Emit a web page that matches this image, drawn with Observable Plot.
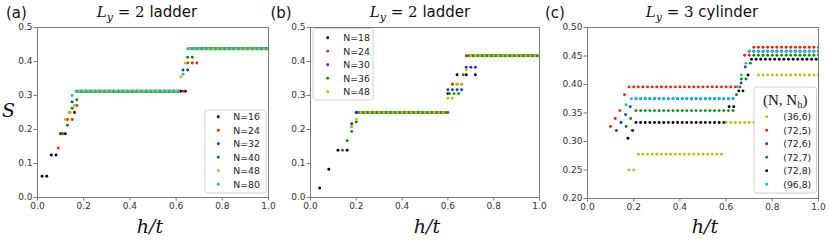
<!DOCTYPE html>
<html>
<head>
<meta charset="utf-8">
<script src="https://cdn.jsdelivr.net/npm/d3@7"></script>
<script src="https://cdn.jsdelivr.net/npm/@observablehq/plot@0.6"></script>
<style>
  body { margin: 0; background: #fff; }
  #wrap { position: relative; width: 830px; height: 240px; overflow: hidden; background: #fff; }
  #wrap > div.panel { position: absolute; top: 0; }
  svg { overflow: visible; }
</style>
</head>
<body>
<div id="wrap"></div>
<script>
// ---------------- data ----------------
const xTicks = [0, 0.2, 0.4, 0.6, 0.8, 1.0];
const yTicksAB = [0, 0.1, 0.2, 0.3, 0.4, 0.5];
const yTicksC = [0.20, 0.25, 0.30, 0.35, 0.40, 0.45, 0.50];

// typed h sampling grids used by the plateaus
const hGridEven = [0.02,0.04,0.06,0.08,0.10,0.12,0.14,0.16,0.18,0.20,0.22,0.24,0.26,0.28,0.30,0.32,0.34,0.36,0.38,0.40,0.42,0.44,0.46,0.48,0.50,0.52,0.54,0.56,0.58,0.60,0.62,0.64,0.66,0.68,0.70,0.72,0.74,0.76,0.78,0.80,0.82,0.84,0.86,0.88,0.90,0.92,0.94,0.96,0.98,1.00];
const hGridOdd = [0.01,0.03,0.05,0.07,0.09,0.11,0.13,0.15,0.17,0.19,0.21,0.23,0.25,0.27,0.29,0.31,0.33,0.35,0.37,0.39,0.41,0.43,0.45,0.47,0.49,0.51,0.53,0.55,0.57,0.59,0.61,0.63,0.65,0.67,0.69,0.71,0.73,0.75,0.77,0.79,0.81,0.83,0.85,0.87,0.89,0.91,0.93,0.95,0.97,0.99];
const hGrid04 = [0.04,0.08,0.12,0.16,0.20,0.24,0.28,0.32,0.36,0.40,0.44,0.48,0.52,0.56,0.60,0.64,0.68,0.72,0.76,0.80,0.84,0.88,0.92,0.96,1.00];

// Panel (a): Ly = 2 ladder
const labelsA = ["N=16", "N=24", "N=32", "N=40", "N=48", "N=80"];
const a16_pts = [[0.02,0.0625],[0.04,0.0625],[0.06,0.125],[0.08,0.125],[0.10,0.1875],[0.12,0.1875],[0.14,0.25],[0.16,0.25]];
const a16_runs = [[0.18,0.64,0.3125,"even"],[0.66,1.00,0.4375,"even"]];
const a24_pts = [[0.09,0.1458],[0.11,0.1875],[0.13,0.2292],[0.15,0.2292],[0.17,0.2708],[0.65,0.3958],[0.67,0.3958],[0.69,0.3958]];
const a24_runs = [[0.19,0.63,0.3125,"odd"],[0.71,0.99,0.4375,"odd"]];
const a32_pts = [[0.15,0.28125],[0.63,0.375],[0.65,0.375]];
const a32_runs = [[0.17,0.61,0.3125,"odd"],[0.67,0.99,0.4375,"odd"]];
const a40_pts = [[0.105,0.1875],[0.13,0.2125],[0.15,0.2625],[0.17,0.2875],[0.65,0.4125],[0.67,0.4125]];
const a40_runs = [[0.19,0.61,0.3125,"odd"],[0.69,0.99,0.4375,"odd"]];
const a48_pts = [[0.12,0.2292],[0.14,0.25],[0.16,0.2708],[0.62,0.3542],[0.64,0.3958]];
const a48_runs = [[0.18,0.60,0.3125,"even"],[0.66,1.00,0.4375,"even"]];
const a80_pts = [[0.15,0.30],[0.63,0.3625]];
const a80_runs = [[0.17,0.61,0.3125,"odd"],[0.65,0.99,0.4375,"odd"]];

// Panel (b): Ly = 2 ladder
const labelsB = ["N=18", "N=24", "N=30", "N=36", "N=48"];
const b18_pts = [[0.04,0.0278],[0.08,0.0833],[0.12,0.1389],[0.16,0.1389],[0.60,0.3056],[0.64,0.3611],[0.68,0.3611],[0.72,0.3611]];
const b18_runs = [[0.20,0.56,0.25,"q"],[0.76,1.00,0.4167,"q"]];
const b24_pts = [[0.18,0.2083],[0.62,0.3333],[0.64,0.3333],[0.66,0.3333]];
const b24_runs = [[0.20,0.60,0.25,"even"],[0.68,1.00,0.4167,"even"]];
const b30_pts = [[0.18,0.2167],[0.60,0.3167],[0.62,0.3167],[0.64,0.3167],[0.66,0.3167],[0.68,0.3833],[0.70,0.3833],[0.72,0.3833]];
const b30_runs = [[0.20,0.58,0.25,"even"],[0.74,1.00,0.4167,"even"]];
const b36_pts = [[0.14,0.1389],[0.16,0.1667],[0.18,0.1944],[0.20,0.2222],[0.607,0.3056],[0.627,0.3056],[0.647,0.3056],[0.667,0.3611]];
const b36_runs = [[0.21,0.59,0.25,"odd"],[0.69,0.99,0.4167,"odd"]];
const b48_pts = [[0.18,0.2083],[0.20,0.2292],[0.60,0.2917],[0.62,0.2917],[0.64,0.3333],[0.66,0.3333],[0.68,0.375]];
const b48_runs = [[0.22,0.58,0.25,"even"],[0.70,1.00,0.4167,"even"]];

// Panel (c): Ly = 3 cylinder, legend (N, N_h)
const labelsC = ["(36,6)", "(72,5)", "(72,6)", "(72,7)", "(72,8)", "(96,8)"];
const c36_6_pts = [[0.18,0.25],[0.20,0.25]];
const c36_6_runs = [[0.22,0.58,0.2778,"even"],[0.60,0.72,0.3333,"even"],[0.74,1.00,0.4167,"even"]];
const c72_5_pts = [[0.10,0.3264],[0.12,0.3403],[0.14,0.3542],[0.16,0.3819],[0.68,0.4514],[0.70,0.4514]];
const c72_5_runs = [[0.18,0.66,0.3958,"even"],[0.72,1.00,0.4653,"even"]];
const c72_6_pts = [[0.125,0.3194],[0.145,0.3333],[0.165,0.3472],[0.185,0.3611],[0.665,0.4028],[0.683,0.4306]];
const c72_6_runs = [[0.21,0.63,0.375,"odd"],[0.70,1.00,0.4583,"even"]];
const c72_7_pts = [[0.167,0.3264],[0.187,0.3403],[0.645,0.3819],[0.666,0.4097],[0.686,0.4097],[0.705,0.4375]];
const c72_7_runs = [[0.21,0.63,0.3542,"odd"],[0.72,1.00,0.4514,"even"]];
const c72_8_pts = [[0.175,0.3056],[0.195,0.3194],[0.613,0.3611],[0.633,0.3611],[0.655,0.3889],[0.673,0.3889],[0.695,0.4167]];
const c72_8_runs = [[0.21,0.59,0.3333,"odd"],[0.71,0.99,0.4444,"odd"]];
const c96_8_pts = [[0.167,0.3646],[0.648,0.3958],[0.666,0.4167],[0.686,0.4375]];
const c96_8_runs = [[0.19,0.63,0.375,"odd"],[0.70,1.00,0.4583,"even"]];

// ---------------- styles ----------------
const K = "#000000", R = "#ff1a00", B = "#1030ff", G = "#0a8a0a", Y = "#c0c000", C = "#00bfcf";
const colorsA = [K, R, B, G, Y, C];
const colorsB = [K, R, B, G, Y];
const colorsC = [Y, R, B, G, K, C];

const grids = {even: hGridEven, odd: hGridOdd, q: hGrid04};
function series(name, pts, runs) {
  const out = [];
  for (const [h0, h1, S, g] of runs)
    for (const h of grids[g]) if (h >= h0 - 1e-9 && h <= h1 + 1e-9) out.push({h, S, name});
  for (const [h, S] of pts) out.push({h, S, name});
  return out;
}

const dataA = [
  ...series(labelsA[0], a16_pts, a16_runs), ...series(labelsA[1], a24_pts, a24_runs),
  ...series(labelsA[2], a32_pts, a32_runs), ...series(labelsA[3], a40_pts, a40_runs),
  ...series(labelsA[4], a48_pts, a48_runs), ...series(labelsA[5], a80_pts, a80_runs)];
const dataB = [
  ...series(labelsB[0], b18_pts, b18_runs), ...series(labelsB[1], b24_pts, b24_runs),
  ...series(labelsB[2], b30_pts, b30_runs), ...series(labelsB[3], b36_pts, b36_runs),
  ...series(labelsB[4], b48_pts, b48_runs)];
const dataC = [
  ...series(labelsC[0], c36_6_pts, c36_6_runs), ...series(labelsC[1], c72_5_pts, c72_5_runs),
  ...series(labelsC[2], c72_6_pts, c72_6_runs), ...series(labelsC[3], c72_7_pts, c72_7_runs),
  ...series(labelsC[4], c72_8_pts, c72_8_runs), ...series(labelsC[5], c96_8_pts, c96_8_runs)];

const wrap = document.getElementById("wrap");

function panel({left, width, ml, mr, mb, yDomain, yTicks, yFmt, data, labels, colors}) {
  const chart = Plot.plot({
    width, height: 240,
    marginLeft: ml, marginRight: mr, marginTop: 27, marginBottom: mb,
    style: {fontFamily: "DejaVu Sans", fontSize: "9px", background: "transparent", overflow: "visible"},
    x: {domain: [0, 1], label: null},
    y: {domain: yDomain, label: null},
    color: {domain: labels, range: colors},
    marks: [
      Plot.dot(data, {x: "h", y: "S", fill: "name", r: 1.45, clip: true}),
      Plot.frame({stroke: "#7a7a7a", strokeWidth: 1}),
      Plot.axisX({ticks: xTicks, tickFormat: d3.format(".1f"), tickSize: 3.5, tickPadding: 1.5, stroke: "#7a7a7a", fill: "#333", label: null}),
      Plot.axisY({ticks: yTicks, tickFormat: d3.format(yFmt), tickSize: 3.5, tickPadding: 1.5, stroke: "#7a7a7a", fill: "#333", label: null})
    ]
  });
  const div = document.createElement("div");
  div.className = "panel";
  div.style.left = left + "px";
  div.appendChild(chart);
  wrap.appendChild(div);
}

panel({left: 0, width: 277, ml: 37, mr: 9, mb: 43, yDomain: [0, 0.5], yTicks: yTicksAB, yFmt: ".1f", data: dataA, labels: labelsA, colors: colorsA});
panel({left: 277, width: 270, ml: 33, mr: 8, mb: 43, yDomain: [0, 0.5], yTicks: yTicksAB, yFmt: ".1f", data: dataB, labels: labelsB, colors: colorsB});
panel({left: 547, width: 283, ml: 40, mr: 12, mb: 42, yDomain: [0.2, 0.5], yTicks: yTicksC, yFmt: ".2f", data: dataC, labels: labelsC, colors: colorsC});

// ---------------- overlay: titles, labels, legends ----------------
const ov = d3.select(wrap).append("svg")
  .attr("width", 830).attr("height", 240)
  .style("position", "absolute").style("left", "0px").style("top", "0px");

const serif = "DejaVu Serif";
const sans = "DejaVu Sans";

function panelTag(x, txt) {
  ov.append("text").attr("x", x).attr("y", 18).attr("font-family", sans).attr("font-size", 15).attr("fill", "#111").text(txt);
}
panelTag(6, "(a)");
panelTag(270.5, "(b)");
panelTag(545, "(c)");

function title(cx, n, word) {
  const t = ov.append("text").attr("x", cx).attr("y", 17).attr("text-anchor", "middle").attr("font-size", 15).attr("fill", "#111");
  t.append("tspan").attr("font-family", serif).attr("font-style", "italic").text("L");
  t.append("tspan").attr("font-family", serif).attr("font-style", "italic").attr("font-size", 11).attr("dy", 3.5).text("y");
  t.append("tspan").attr("font-family", serif).attr("dy", -3.5).text(" = " + n + " ");
  t.append("tspan").attr("font-family", sans).text(word);
}
title(147, "2", "ladder");
title(420, "2", "ladder");
title(702, "3", "cylinder");

function xlabel(cx) {
  ov.append("text").attr("x", cx).attr("y", 233).attr("text-anchor", "middle")
    .attr("font-family", serif).attr("font-style", "italic").attr("font-size", 19).attr("fill", "#111").text("h/t");
}
xlabel(150); xlabel(427); xlabel(705);
ov.append("text").attr("x", 8.5).attr("y", 117).attr("text-anchor", "middle")
  .attr("font-family", serif).attr("font-style", "italic").attr("font-size", 19).attr("fill", "#111").text("S");

function legend({x, y, w, h, rows0, markX, textX, labels, colors, titleY}) {
  ov.append("rect").attr("x", x).attr("y", y).attr("width", w).attr("height", h).attr("rx", 2.5)
    .attr("fill", "#fff").attr("fill-opacity", 0.85).attr("stroke", "#d0d0d0").attr("stroke-width", 1);
  if (titleY) {
    const t = ov.append("text").attr("x", x + w / 2).attr("y", titleY).attr("text-anchor", "middle")
      .attr("font-family", "Liberation Serif").attr("font-size", 15).attr("fill", "#111");
    t.append("tspan").text("(N, N");
    t.append("tspan").attr("font-size", 10.5).attr("dy", 3).text("h");
    t.append("tspan").attr("dy", -3).text(")");
  }
  labels.forEach((lab, i) => {
    const cy = rows0 + 13.5 * i;
    ov.append("circle").attr("cx", markX).attr("cy", cy).attr("r", 1.45).attr("fill", colors[i]);
    ov.append("text").attr("x", textX).attr("y", cy + 3.3).attr("font-family", sans).attr("font-size", 9.3)
      .attr("fill", "#222").text(lab);
  });
}
legend({x: 205, y: 110, w: 61, h: 83, rows0: 116.7, markX: 218.3, textX: 233.3, labels: labelsA, colors: colorsA});
legend({x: 313, y: 28.5, w: 60, h: 71.5, rows0: 37.7, markX: 327.7, textX: 343.3, labels: labelsB, colors: colorsB});
legend({x: 754, y: 87, w: 62.5, h: 106, rows0: 116.7, markX: 766.7, textX: 783.3, labels: labelsC, colors: colorsC, titleY: 104.5});
</script>
</body>
</html>
